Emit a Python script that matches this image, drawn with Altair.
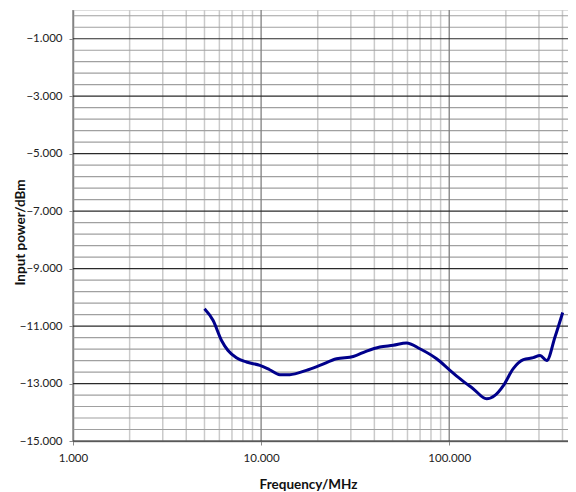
import altair as alt
import pandas as pd

# Measured curve (frequency in MHz, input power in dBm)
freq = [5.0, 5.55, 6.16, 6.67, 7.39, 8.36, 9.85, 11.1, 12.57, 14.2, 17.4, 20.5, 25.2, 30.9,
        36.4, 42.8, 50.4, 59.3, 69.8, 85.7, 100.9, 114, 134, 158, 175, 194, 219, 248,
        280, 304, 330, 365, 401]
power = [-10.40, -10.80, -11.50, -11.85, -12.10, -12.25, -12.37, -12.52, -12.69, -12.69,
         -12.54, -12.37, -12.14, -12.06, -11.87, -11.73, -11.67, -11.59, -11.79, -12.14,
         -12.54, -12.83, -13.18, -13.53, -13.41, -13.07, -12.48, -12.17, -12.10, -12.02,
         -12.20, -11.38, -10.53]

# Axis / grid definitions
x_major = [1, 10, 100]
x_minor = [2, 3, 4, 5, 6, 7, 8, 9, 20, 30, 40, 50, 60, 70, 80, 90, 200, 300, 400]
y_major = [-15, -13, -11, -9, -7, -5, -3, -1]
y_minor = [-14.6, -14.2, -13.8, -13.4, -12.6, -12.2, -11.8, -11.4, -10.6, -10.2, -9.8,
           -9.4, -8.6, -8.2, -7.8, -7.4, -6.6, -6.2, -5.8, -5.4, -4.6, -4.2, -3.8, -3.4,
           -2.6, -2.2, -1.8, -1.4, -0.6, -0.2]

X_DOMAIN = [1, 428]
Y_DOMAIN = [-15, 0]
FONT = "Lato"

xs = alt.Scale(type="log", domain=X_DOMAIN, nice=False)
ys = alt.Scale(domain=Y_DOMAIN, nice=False, zero=False)

x_axis = alt.Axis(
    values=x_major, format=".3f", grid=False, title="Frequency/MHz",
    tickSize=4, tickColor="#888888", domainColor="#888888", domainWidth=1.5,
    labelFont=FONT, labelFontSize=11.5, labelColor="#222222", labelPadding=7,
    labelFlush=False,
    titleFont=FONT, titleFontSize=13.5, titleFontWeight="bold", titleColor="#111111",
    titleX=235, titleY=36, titleBaseline="top", titleAlign="center")
y_axis = alt.Axis(
    values=y_major, format=".3f", grid=False, title="Input power/dBm",
    tickSize=4, tickColor="#888888", domainColor="#888888", domainWidth=1.5,
    labelFont=FONT, labelFontSize=11.5, labelColor="#222222", labelPadding=7,
    labelFlush=False,
    titleFont=FONT, titleFontSize=13.5, titleFontWeight="bold", titleColor="#111111",
    titleX=-53, titleY=222, titleBaseline="middle", titleAlign="center", titleAngle=-90)

df = pd.DataFrame({"f": freq, "p": power})

vminor = alt.Chart(pd.DataFrame({"f": x_minor})).mark_rule(
    color="#cacaca", strokeWidth=1.5
).encode(x=alt.X("f:Q", scale=xs, axis=x_axis))

hminor = alt.Chart(pd.DataFrame({"p": y_minor})).mark_rule(
    color="#a0a0a0", strokeWidth=1.2
).encode(y=alt.Y("p:Q", scale=ys, axis=y_axis))

vmajor = alt.Chart(pd.DataFrame({"f": x_major})).mark_rule(
    color="#808080", strokeWidth=1.3
).encode(x=alt.X("f:Q", scale=xs, axis=x_axis))

hmajor = alt.Chart(pd.DataFrame({"p": y_major})).mark_rule(
    color="#2a2a2a", strokeWidth=1.2
).encode(y=alt.Y("p:Q", scale=ys, axis=y_axis))

line = alt.Chart(df).mark_line(
    color="#00008b", strokeWidth=3, interpolate="monotone"
).encode(
    x=alt.X("f:Q", scale=xs, axis=x_axis),
    y=alt.Y("p:Q", scale=ys, axis=y_axis),
)

chart = alt.layer(vminor, hminor, vmajor, hmajor, line).properties(
    width=495, height=431,
    autosize=alt.AutoSizeParams(type="none"),
    padding={"left": 65, "top": 2, "right": 0, "bottom": 50},
).configure_view(stroke="#888888", strokeWidth=1.5).configure(background="white")

chart.save("out.html", embed_options={"renderer": "svg", "actions": False})
